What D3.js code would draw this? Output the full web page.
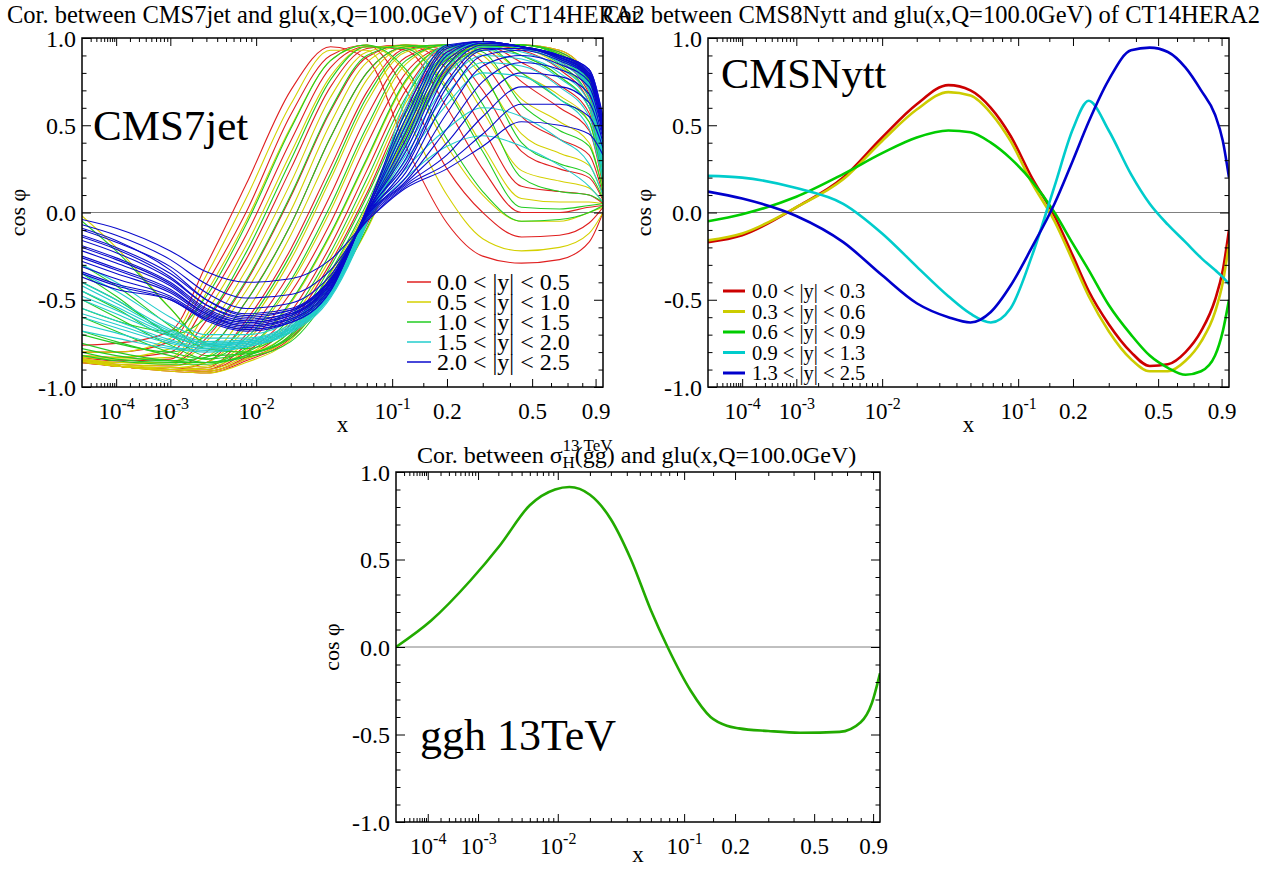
<!DOCTYPE html>
<html>
<head>
<meta charset="utf-8">
<script src="https://cdn.jsdelivr.net/npm/d3@7"></script>
<style>
body { margin: 0; background: #fff; }
text { font-family: "Liberation Serif", "Times New Roman", serif; fill: #000; }
</style>
</head>
<body>
<script>
// ---------- data ----------
const xMajor = [1e-4, 1e-3, 1e-2, 0.1, 0.2, 0.5, 0.9]
const xMinor = [2e-5,3e-5,4e-5,5e-5,6e-5,7e-5,8e-5,9e-5,
                2e-4,3e-4,4e-4,5e-4,6e-4,7e-4,8e-4,9e-4,
                2e-3,3e-3,4e-3,5e-3,6e-3,7e-3,8e-3,9e-3,
                0.02,0.03,0.04,0.05,0.06,0.07,0.08,0.09,
                0.15,0.3,0.4,0.6,0.7,0.8]
const yMajor = [-1, -0.5, 0, 0.5, 1]
const yMinor = [-0.9,-0.8,-0.7,-0.6,-0.4,-0.3,-0.2,-0.1,0.1,0.2,0.3,0.4,0.6,0.7,0.8,0.9]

// CMS7jet: x nodes shared by all curves
const jetX = [1e-5, 1e-4, 1e-3, 3e-3, 0.008, 0.02, 0.04, 0.07, 0.12, 0.2, 0.3, 0.45, 0.65, 0.85, 0.96]
const jetBins = ['0.0 < |y| < 0.5', '0.5 < |y| < 1.0', '1.0 < |y| < 1.5', '1.5 < |y| < 2.0', '2.0 < |y| < 2.5']
const jetRed = [
  [-0.76,-0.75,-0.68,-0.30,0.16,0.70,0.95,0.88,0.38,-0.06,-0.25,-0.29,-0.27,-0.17,0.00],
  [-0.80,-0.80,-0.74,-0.41,0.00,0.56,0.90,0.96,0.70,0.25,0.00,-0.14,-0.13,-0.06,0.03],
  [-0.82,-0.83,-0.80,-0.52,-0.13,0.41,0.83,0.95,0.93,0.60,0.25,0.00,0.00,0.03,0.04],
  [-0.83,-0.85,-0.84,-0.62,-0.27,0.25,0.72,0.94,0.96,0.82,0.48,0.15,0.12,0.10,0.05],
  [-0.84,-0.86,-0.86,-0.72,-0.40,0.09,0.58,0.89,0.96,0.93,0.70,0.35,0.25,0.20,0.07],
  [-0.84,-0.87,-0.88,-0.80,-0.51,-0.07,0.43,0.80,0.95,0.96,0.86,0.55,0.42,0.33,0.10],
  [-0.85,-0.88,-0.90,-0.86,-0.62,-0.21,0.26,0.69,0.94,0.96,0.94,0.75,0.60,0.47,0.15],
  [-0.85,-0.88,-0.90,-0.89,-0.70,-0.34,0.10,0.55,0.89,0.96,0.96,0.86,0.73,0.57,0.18],
  [-0.85,-0.88,-0.90,-0.90,-0.76,-0.46,-0.06,0.39,0.80,0.95,0.96,0.93,0.82,0.63,0.20],
  [-0.85,-0.88,-0.90,-0.90,-0.80,-0.57,-0.19,0.24,0.70,0.95,0.96,0.95,0.87,0.68,0.22],
  [-0.85,-0.88,-0.90,-0.91,-0.83,-0.64,-0.29,0.11,0.60,0.92,0.96,0.96,0.90,0.72,0.25],
  [-0.86,-0.88,-0.90,-0.91,-0.84,-0.70,-0.37,0.01,0.50,0.88,0.95,0.96,0.92,0.75,0.27],
  [-0.86,-0.88,-0.91,-0.92,-0.85,-0.72,-0.43,-0.07,0.42,0.82,0.94,0.96,0.93,0.77,0.28]
]
const jetYellow = [
  [-0.80,-0.80,-0.72,-0.36,0.08,0.62,0.93,0.93,0.55,0.10,-0.15,-0.22,-0.20,-0.12,0.00],
  [-0.82,-0.83,-0.78,-0.46,-0.05,0.49,0.87,0.96,0.80,0.38,0.10,-0.05,-0.05,0.00,0.03],
  [-0.83,-0.84,-0.83,-0.57,-0.19,0.34,0.78,0.95,0.95,0.72,0.38,0.08,0.06,0.06,0.05],
  [-0.84,-0.86,-0.86,-0.68,-0.33,0.17,0.66,0.92,0.96,0.88,0.58,0.24,0.18,0.14,0.06],
  [-0.84,-0.86,-0.87,-0.74,-0.45,0.01,0.51,0.86,0.96,0.95,0.78,0.45,0.34,0.27,0.09],
  [-0.84,-0.87,-0.88,-0.83,-0.57,-0.13,0.35,0.76,0.95,0.96,0.90,0.65,0.52,0.40,0.12],
  [-0.85,-0.87,-0.89,-0.86,-0.66,-0.27,0.19,0.63,0.92,0.96,0.95,0.80,0.67,0.52,0.16],
  [-0.85,-0.88,-0.89,-0.88,-0.74,-0.41,0.01,0.46,0.85,0.96,0.96,0.90,0.78,0.60,0.19],
  [-0.85,-0.88,-0.90,-0.89,-0.79,-0.52,-0.13,0.30,0.75,0.95,0.96,0.94,0.84,0.65,0.21],
  [-0.85,-0.88,-0.90,-0.90,-0.82,-0.62,-0.26,0.15,0.63,0.93,0.96,0.95,0.88,0.70,0.23],
  [-0.02,-0.20,-0.55,-0.76,-0.80,-0.68,-0.35,0.03,0.52,0.89,0.95,0.96,0.90,0.73,0.26],
  [-0.85,-0.88,-0.90,-0.91,-0.84,-0.71,-0.41,-0.04,0.45,0.84,0.95,0.96,0.91,0.75,0.27],
  [-0.86,-0.88,-0.91,-0.92,-0.86,-0.73,-0.45,-0.10,0.39,0.80,0.93,0.96,0.93,0.77,0.29]
]
const jetGreen = [
  [-0.55,-0.62,-0.68,-0.48,-0.07,0.48,0.87,0.96,0.82,0.42,0.12,-0.05,-0.04,0.00,0.04],
  [-0.45,-0.55,-0.70,-0.60,-0.23,0.30,0.76,0.95,0.94,0.70,0.35,0.03,0.02,0.04,0.05],
  [-0.70,-0.75,-0.80,-0.70,-0.39,0.10,0.59,0.90,0.96,0.90,0.62,0.20,0.12,0.10,0.06],
  [-0.35,-0.48,-0.70,-0.76,-0.51,-0.07,0.43,0.80,0.95,0.96,0.80,0.40,0.28,0.22,0.08],
  [-0.78,-0.82,-0.85,-0.83,-0.64,-0.24,0.22,0.66,0.93,0.96,0.92,0.62,0.47,0.38,0.12],
  [-0.60,-0.68,-0.80,-0.84,-0.72,-0.39,0.04,0.49,0.87,0.96,0.96,0.80,0.65,0.52,0.16],
  [-0.80,-0.84,-0.86,-0.86,-0.78,-0.51,-0.12,0.31,0.76,0.95,0.96,0.90,0.78,0.60,0.19],
  [-0.50,-0.60,-0.76,-0.84,-0.80,-0.60,-0.23,0.19,0.66,0.94,0.96,0.94,0.85,0.66,0.21],
  [-0.05,-0.22,-0.55,-0.75,-0.78,-0.66,-0.31,0.09,0.57,0.91,0.96,0.95,0.88,0.70,0.24],
  [-0.40,-0.50,-0.70,-0.82,-0.81,-0.68,-0.34,0.05,0.54,0.90,0.96,0.95,0.89,0.71,0.25],
  [-0.82,-0.85,-0.87,-0.87,-0.82,-0.70,-0.37,0.01,0.50,0.88,0.95,0.96,0.90,0.73,0.26],
  [-0.68,-0.74,-0.82,-0.86,-0.82,-0.71,-0.40,-0.02,0.47,0.86,0.95,0.96,0.90,0.74,0.27],
  [-0.30,-0.42,-0.65,-0.78,-0.80,-0.72,-0.42,-0.05,0.44,0.84,0.95,0.96,0.91,0.75,0.28],
  [-0.75,-0.80,-0.85,-0.86,-0.83,-0.74,-0.46,-0.09,0.40,0.81,0.94,0.96,0.92,0.76,0.30]
]
const jetCyan = [
  [-0.30,-0.40,-0.60,-0.70,-0.70,-0.62,-0.42,-0.04,0.20,0.38,0.44,0.38,0.27,0.15,0.06],
  [-0.35,-0.45,-0.64,-0.72,-0.72,-0.64,-0.44,-0.04,0.25,0.48,0.60,0.55,0.42,0.28,0.10],
  [-0.40,-0.50,-0.67,-0.74,-0.73,-0.65,-0.45,-0.04,0.30,0.62,0.80,0.78,0.65,0.48,0.18],
  [-0.42,-0.52,-0.68,-0.75,-0.74,-0.66,-0.46,-0.04,0.33,0.68,0.86,0.84,0.72,0.55,0.21],
  [-0.45,-0.54,-0.69,-0.75,-0.74,-0.66,-0.46,-0.04,0.36,0.74,0.90,0.88,0.77,0.60,0.24],
  [-0.48,-0.56,-0.70,-0.76,-0.74,-0.66,-0.46,-0.04,0.39,0.79,0.93,0.90,0.80,0.63,0.26],
  [-0.50,-0.58,-0.71,-0.76,-0.75,-0.67,-0.47,-0.05,0.42,0.83,0.95,0.92,0.83,0.66,0.28],
  [-0.55,-0.62,-0.73,-0.77,-0.75,-0.67,-0.47,-0.05,0.48,0.89,0.97,0.94,0.86,0.70,0.30],
  [-0.58,-0.64,-0.74,-0.78,-0.76,-0.68,-0.47,-0.05,0.51,0.91,0.97,0.95,0.87,0.71,0.31],
  [-0.60,-0.66,-0.75,-0.78,-0.76,-0.68,-0.48,-0.05,0.54,0.93,0.97,0.95,0.88,0.72,0.32],
  [-0.64,-0.69,-0.77,-0.79,-0.77,-0.68,-0.48,-0.06,0.60,0.95,0.97,0.95,0.89,0.73,0.34],
  [-0.68,-0.72,-0.78,-0.80,-0.77,-0.69,-0.49,-0.06,0.65,0.96,0.97,0.95,0.90,0.74,0.36]
]
const jetBlue = [
  [-0.04,-0.09,-0.22,-0.34,-0.40,-0.38,-0.27,-0.05,0.14,0.25,0.38,0.52,0.50,0.45,0.33],
  [-0.07,-0.13,-0.27,-0.41,-0.49,-0.47,-0.33,-0.05,0.15,0.28,0.45,0.62,0.62,0.55,0.37],
  [-0.09,-0.16,-0.33,-0.50,-0.59,-0.56,-0.39,-0.02,0.26,0.72,0.93,0.94,0.88,0.77,0.46],
  [-0.10,-0.17,-0.31,-0.46,-0.55,-0.52,-0.36,-0.04,0.16,0.33,0.55,0.72,0.72,0.63,0.40],
  [-0.13,-0.20,-0.35,-0.50,-0.58,-0.55,-0.38,-0.03,0.17,0.40,0.65,0.80,0.78,0.68,0.42],
  [-0.14,-0.21,-0.37,-0.53,-0.61,-0.58,-0.40,-0.01,0.31,0.80,0.96,0.95,0.89,0.78,0.47],
  [-0.16,-0.23,-0.38,-0.53,-0.60,-0.56,-0.38,-0.02,0.18,0.48,0.75,0.86,0.82,0.72,0.44],
  [-0.19,-0.26,-0.40,-0.55,-0.62,-0.57,-0.39,-0.02,0.20,0.57,0.84,0.90,0.85,0.75,0.45],
  [-0.20,-0.27,-0.41,-0.56,-0.63,-0.59,-0.41,0.00,0.38,0.87,0.97,0.95,0.89,0.79,0.49],
  [-0.22,-0.29,-0.42,-0.57,-0.63,-0.58,-0.40,-0.01,0.23,0.66,0.90,0.93,0.87,0.77,0.46],
  [-0.25,-0.32,-0.44,-0.58,-0.64,-0.59,-0.41,0.00,0.28,0.75,0.94,0.94,0.88,0.78,0.47],
  [-0.26,-0.33,-0.45,-0.58,-0.65,-0.61,-0.43,0.01,0.46,0.92,0.98,0.95,0.90,0.80,0.51],
  [-0.28,-0.35,-0.46,-0.59,-0.65,-0.60,-0.42,0.00,0.35,0.84,0.97,0.95,0.89,0.79,0.48],
  [-0.31,-0.38,-0.48,-0.60,-0.66,-0.61,-0.43,0.00,0.42,0.90,0.98,0.95,0.89,0.80,0.50],
  [-0.34,-0.41,-0.49,-0.61,-0.67,-0.62,-0.44,0.01,0.50,0.94,0.98,0.95,0.90,0.81,0.52],
  [-0.35,-0.42,-0.50,-0.61,-0.67,-0.63,-0.45,0.02,0.54,0.95,0.98,0.95,0.90,0.82,0.54],
  [-0.37,-0.44,-0.50,-0.62,-0.68,-0.63,-0.45,0.02,0.58,0.96,0.98,0.95,0.90,0.82,0.55]
]

// CMSNytt: one curve per rapidity bin
const yttX = [1e-5, 1e-4, 1e-3, 0.004, 0.01, 0.02, 0.035, 0.05, 0.068, 0.09, 0.12, 0.16, 0.2, 0.24,
              0.3, 0.38, 0.46, 0.55, 0.65, 0.75, 0.85, 0.91, 0.96]
const yttBins = ['0.0 < |y| < 0.3', '0.3 < |y| < 0.6', '0.6 < |y| < 0.9', '0.9 < |y| < 1.3', '1.3 < |y| < 2.5']
const yttRed    = [-0.17,-0.13,0.03,0.20,0.43,0.62,0.73,0.70,0.60,0.44,0.20,-0.02,-0.25,-0.45,
                   -0.64,-0.80,-0.88,-0.87,-0.80,-0.68,-0.50,-0.33,-0.10]
const yttYellow = [-0.16,-0.12,0.03,0.19,0.41,0.59,0.69,0.67,0.57,0.41,0.17,-0.05,-0.28,-0.48,
                   -0.68,-0.84,-0.91,-0.91,-0.85,-0.74,-0.57,-0.40,-0.18]
const yttGreen  = [-0.05,-0.01,0.09,0.22,0.34,0.43,0.47,0.46,0.40,0.31,0.18,0.00,-0.18,-0.33,
                   -0.53,-0.70,-0.82,-0.89,-0.93,-0.91,-0.82,-0.68,-0.50]
const yttCyan   = [0.21,0.20,0.14,0.05,-0.12,-0.31,-0.48,-0.58,-0.63,-0.55,-0.25,0.15,0.48,0.64,
                   0.47,0.22,0.05,-0.07,-0.17,-0.26,-0.33,-0.37,-0.41]
const yttBlue   = [0.12,0.08,-0.02,-0.17,-0.36,-0.52,-0.60,-0.63,-0.57,-0.42,-0.20,0.05,0.30,0.52,
                   0.76,0.93,0.945,0.92,0.83,0.70,0.56,0.41,0.20]

// ggh 13TeV
const gghX = [1e-5, 1.2e-4, 7.5e-4, 2.1e-3, 5e-3, 9.4e-3, 0.013, 0.02, 0.03, 0.043, 0.06, 0.078, 0.11,
              0.145, 0.18, 0.21, 0.3, 0.43, 0.65, 0.8, 0.89, 0.96]
const gghY = [0.00,0.15,0.38,0.58,0.81,0.90,0.914,0.87,0.73,0.50,0.21,0.00,-0.25,
              -0.40,-0.45,-0.465,-0.48,-0.49,-0.485,-0.43,-0.32,-0.15]

// ---------- drawing ----------
const W = 1282, H = 870
const svg = d3.select('body').append('svg').attr('width', W).attr('height', H)
const serif = '"Liberation Serif", "Times New Roman", serif'

const thin = ['#e02020', '#d4d000', '#22cc22', '#22cccc', '#0a0acc']
const thick = ['#cc0000', '#cccc00', '#00cc00', '#00cccc', '#0000cc']

function panel(p) {
    const xs = d3.scalePow().exponent(0.2).domain([1e-5, 0.96]).range([p.left, p.right])
    const ys = d3.scaleLinear().domain([-1, 1]).range([p.bottom, p.top])
    const g = svg.append('g')
    const id = 'clip' + p.left
    g.append('clipPath').attr('id', id).append('rect')
        .attr('x', p.left).attr('y', p.top)
        .attr('width', p.right - p.left).attr('height', p.bottom - p.top)

    // zero line
    g.append('line')
        .attr('x1', p.left).attr('x2', p.right)
        .attr('y1', ys(0)).attr('y2', ys(0))
        .attr('stroke', '#808080').attr('stroke-width', 1)

    const plot = g.append('g').attr('clip-path', `url(#${id})`)

    // x axes
    const fmt = d => d <= 0.1 ? '' : String(d)
    const xb = g.append('g').attr('transform', `translate(0,${p.bottom})`)
        .call(d3.axisBottom(xs).tickValues(xMajor).tickSizeInner(-8).tickSizeOuter(0).tickFormat(fmt))
    xb.attr('font-family', serif)
    xb.selectAll('text').attr('y', 32).attr('dy', null).attr('font-size', 23)
        .each(function (d) {
            if (d <= 0.1) {
                const t = d3.select(this)
                t.append('tspan').text('10')
                t.append('tspan').attr('dy', -10).attr('font-size', 16).text(String(Math.round(Math.log10(d))))
            }
        })
    g.append('g').attr('transform', `translate(0,${p.bottom})`)
        .call(d3.axisBottom(xs).tickValues(xMinor).tickSizeInner(-4).tickSizeOuter(0).tickFormat(''))
    g.append('g').attr('transform', `translate(0,${p.top})`)
        .call(d3.axisTop(xs).tickValues(xMajor).tickSizeInner(-8).tickSizeOuter(0).tickFormat(''))
    g.append('g').attr('transform', `translate(0,${p.top})`)
        .call(d3.axisTop(xs).tickValues(xMinor).tickSizeInner(-4).tickSizeOuter(0).tickFormat(''))

    // y axes
    const yl = g.append('g').attr('transform', `translate(${p.left},0)`)
        .call(d3.axisLeft(ys).tickValues(yMajor).tickSizeInner(-9).tickSizeOuter(0).tickPadding(6))
    yl.attr('font-family', serif)
    yl.selectAll('text').attr('font-size', 24).attr('dy', '0.34em')
        .text(d => d3.format('.1f')(d).replace('−', '-'))
    g.append('g').attr('transform', `translate(${p.left},0)`)
        .call(d3.axisLeft(ys).tickValues(yMinor).tickSizeInner(-4.5).tickSizeOuter(0).tickFormat(''))
    g.append('g').attr('transform', `translate(${p.right},0)`)
        .call(d3.axisRight(ys).tickValues(yMajor).tickSizeInner(-9).tickSizeOuter(0).tickFormat(''))
    g.append('g').attr('transform', `translate(${p.right},0)`)
        .call(d3.axisRight(ys).tickValues(yMinor).tickSizeInner(-4.5).tickSizeOuter(0).tickFormat(''))
    g.selectAll('.domain').remove()
    g.selectAll('.tick line').attr('stroke', '#000').attr('stroke-width', 1)

    // frame
    g.append('rect')
        .attr('x', p.left).attr('y', p.top)
        .attr('width', p.right - p.left).attr('height', p.bottom - p.top)
        .attr('fill', 'none').attr('stroke', '#000').attr('stroke-width', 1.5)

    // axis titles
    g.append('text')
        .attr('x', (p.left + p.right) / 2).attr('y', p.bottom + p.xlab)
        .attr('text-anchor', 'middle').attr('font-size', 23).text('x')
    g.append('text')
        .attr('transform', `translate(${p.left - 57},${(p.top + p.bottom) / 2}) rotate(-90)`)
        .attr('text-anchor', 'middle').attr('font-size', 22).text('cos φ')

    return { g, plot, xs, ys }
}

// ---- panel 1: CMS7jet ----
const p1 = panel({ left: 82, right: 603, top: 38, bottom: 387, xlab: 45 })
const line1 = d3.line().x(d => p1.xs(d[0])).y(d => p1.ys(d[1])).curve(d3.curveMonotoneX)
const jetSets = [jetRed, jetYellow, jetGreen, jetCyan, jetBlue]
jetSets.forEach((set, i) => {
    p1.plot.selectAll('.c' + i)
        .data(set)
        .enter().append('path')
        .attr('class', 'c' + i)
        .attr('d', vals => line1(jetX.map((x, k) => [x, vals[k]])))
        .attr('fill', 'none')
        .attr('stroke', thin[i])
        .attr('stroke-width', 1.1)
})
const leg1 = p1.g.append('g')
jetBins.forEach((lab, i) => {
    const y = 282 + i * 20
    leg1.append('line').attr('x1', 407).attr('x2', 431).attr('y1', y).attr('y2', y)
        .attr('stroke', thin[i]).attr('stroke-width', 1.5)
    leg1.append('text').attr('x', 437).attr('y', y + 8).attr('font-size', 24).text(lab)
})
p1.g.append('text').attr('x', 93).attr('y', 140).attr('font-size', 43).text('CMS7jet')

// ---- panel 2: CMSNytt ----
const p2 = panel({ left: 708, right: 1229, top: 38, bottom: 387, xlab: 45 })
const line2 = d3.line().x(d => p2.xs(d[0])).y(d => p2.ys(d[1])).curve(d3.curveMonotoneX)
const yttSets = [yttRed, yttYellow, yttGreen, yttCyan, yttBlue]
p2.plot.selectAll('.ytt')
    .data(yttSets)
    .enter().append('path')
    .attr('class', 'ytt')
    .attr('d', vals => line2(yttX.map((x, k) => [x, vals[k]])))
    .attr('fill', 'none')
    .attr('stroke', (d, i) => thick[i])
    .attr('stroke-width', 2.6)
const leg2 = p2.g.append('g')
yttBins.forEach((lab, i) => {
    const y = 291 + i * 20.5
    leg2.append('line').attr('x1', 723).attr('x2', 745).attr('y1', y).attr('y2', y)
        .attr('stroke', thick[i]).attr('stroke-width', 3)
    leg2.append('text').attr('x', 752).attr('y', y + 7).attr('font-size', 20.5).text(lab)
})
p2.g.append('text').attr('x', 721).attr('y', 88).attr('font-size', 42.5).text('CMSNytt')

// ---- panel 3: ggh ----
const p3 = panel({ left: 396, right: 880, top: 472, bottom: 822, xlab: 40 })
const line3 = d3.line().x(d => p3.xs(d[0])).y(d => p3.ys(d[1])).curve(d3.curveMonotoneX)
p3.plot.append('path')
    .attr('d', line3(gghX.map((x, k) => [x, gghY[k]])))
    .attr('fill', 'none').attr('stroke', '#22aa00').attr('stroke-width', 2.6)
p3.g.append('text').attr('x', 420).attr('y', 750).attr('font-size', 44).text('ggh 13TeV')

// ---- titles ----
svg.append('text').attr('x', 7).attr('y', 23).attr('font-size', 24.5)
    .text('Cor. between CMS7jet and glu(x,Q=100.0GeV) of CT14HERA2')
svg.append('text').attr('x', 603).attr('y', 23).attr('font-size', 24.5)
    .text('Cor. between CMS8Nytt and glu(x,Q=100.0GeV) of CT14HERA2')

const bt = svg.append('text').attr('x', 417).attr('y', 463).attr('font-size', 24)
const bt1 = bt.append('tspan').text('Cor. between σ')
bt.append('tspan').attr('dy', 5).attr('font-size', 17).text('H')
bt.append('tspan').attr('dy', -5).text('(gg) and glu(x,Q=100.0GeV)')
svg.append('text').attr('x', 417 + bt1.node().getComputedTextLength())
    .attr('y', 451).attr('font-size', 17).text('13 TeV')
</script>
</body>
</html>
